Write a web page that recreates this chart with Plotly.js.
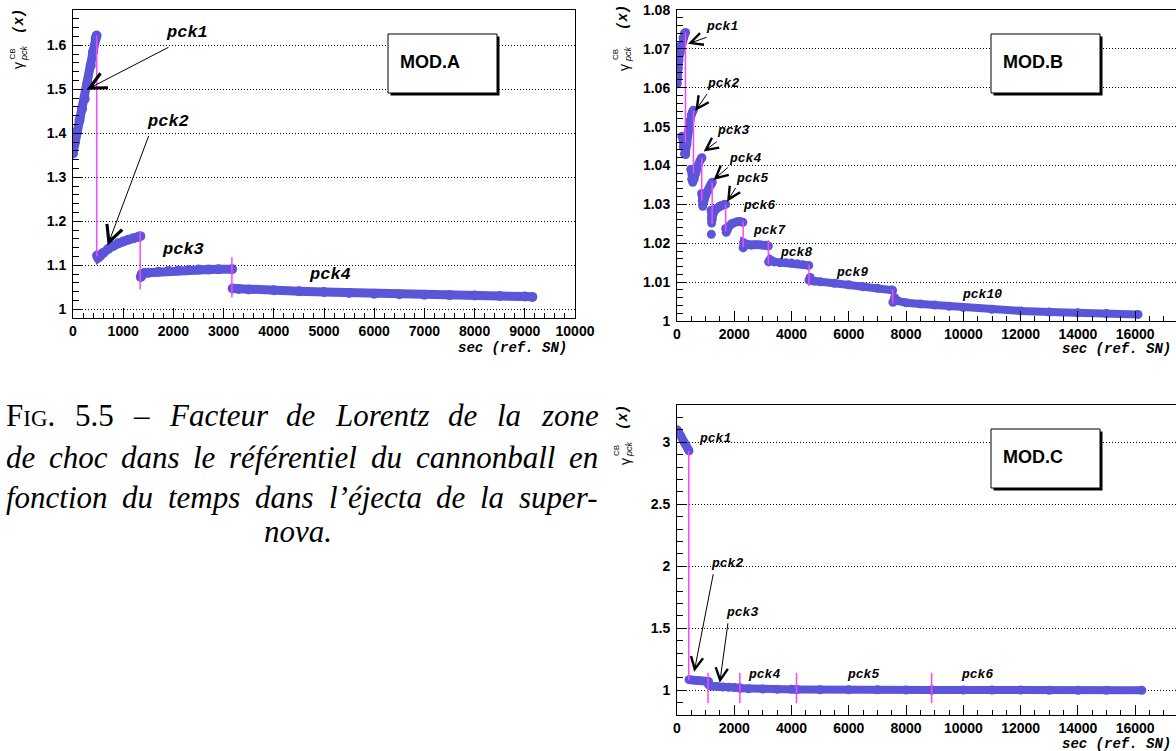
<!DOCTYPE html>
<html><head><meta charset="utf-8">
<script src="https://cdn.plot.ly/plotly-3.0.1.min.js"></script>
<style>html,body{margin:0;padding:0;overflow:hidden;background:#fff}</style>
</head><body><div id="chart" style="width:1184px;height:751px"></div>
<script>
// ---------- MOD.A ----------
const aPck1X=[0,40,80,130,180,233,290,353,400,453,470];
const aPck1Y=[1.354,1.38,1.403,1.43,1.455,1.478,1.515,1.554,1.585,1.615,1.622];
const aPck2X=[480,500,540,600,700,800,900,1000,1100,1200,1300,1340];
const aPck2Y=[1.122,1.117,1.121,1.128,1.137,1.144,1.15,1.154,1.158,1.161,1.164,1.166];
const aPck3X=[1350,1370,1420,1500,1700,1900,2100,2300,2500,2700,2900,3170];
const aPck3Y=[1.073,1.08,1.082,1.083,1.085,1.087,1.088,1.089,1.09,1.09,1.091,1.091];
const aPck4X=[3180,3300,3500,4000,4500,5000,5500,6000,6500,7000,7500,8000,8500,9000,9150];
const aPck4Y=[1.047,1.046,1.045,1.043,1.041,1.039,1.037,1.035,1.034,1.033,1.032,1.031,1.03,1.029,1.028];
const aSplitX=[472,1338,3165];
const aSplitTop=[1.622,1.178,1.118];
const aSplitBot=[1.12,1.045,1.027];
const aLabels=['pck1','pck2','pck3','pck4'];
const aLabelX=[2270,1890,2190,5120];
const aLabelY=[1.629,1.427,1.136,1.08];
const aTipX=[271,690], aTipY=[1.499,1.145], aTailX=[1932,1518], aTailY=[1.597,1.397];

// ---------- MOD.B ----------
const bPck1X=[0,10,20,40,70,110,160,210,260,300];
const bPck1Y=[1.0705,1.061,1.0625,1.065,1.067,1.069,1.071,1.0728,1.074,1.0742];
const bPck2X=[170,220,260,300,350,400,450,500,540,570];
const bPck2Y=[1.0475,1.0448,1.043,1.0428,1.0455,1.049,1.0515,1.053,1.0538,1.0542];
const bPck3X=[480,510,550,600,650,700,750,800,850,870];
const bPck3Y=[1.039,1.0365,1.0357,1.0365,1.038,1.0393,1.0403,1.0412,1.0418,1.042];
const bPck4X=[860,880,900,950,1000,1050,1100,1150,1200,1230];
const bPck4Y=[1.0328,1.031,1.0295,1.031,1.0322,1.0332,1.034,1.0347,1.0353,1.0357];
const bPck5X=[1190,1200,1210,1230,1260,1300,1350,1400,1450,1500,1550,1600,1650,1700];
const bPck5Y=[1.0285,1.0265,1.0252,1.0262,1.0275,1.0282,1.0287,1.029,1.0293,1.0295,1.0297,1.0298,1.03,1.03];
const bPck5OutX=[1200], bPck5OutY=[1.0223];
const bPck6X=[1700,1720,1760,1820,1900,2000,2100,2200,2300];
const bPck6Y=[1.0238,1.0228,1.0235,1.0244,1.025,1.0253,1.0255,1.0256,1.0254];
const bPck7X=[2310,2330,2400,2500,2600,2700,2800,2900,3000,3100,3190];
const bPck7Y=[1.0188,1.0201,1.0198,1.0196,1.0195,1.0196,1.0196,1.0196,1.0195,1.0195,1.0193];
const bPck8X=[3200,3250,3300,3400,3600,3800,4000,4200,4400,4600];
const bPck8Y=[1.0152,1.0158,1.0155,1.0152,1.015,1.015,1.0149,1.0147,1.0145,1.0143];
const bPck9X=[4610,4650,4700,4800,5000,5500,6000,6500,7000,7500,7530];
const bPck9Y=[1.0105,1.0112,1.0104,1.0102,1.0101,1.0097,1.0093,1.0088,1.0084,1.008,1.0079];
const bPck10X=[7540,7600,7700,8000,8500,9000,9500,10000,11000,12000,13000,14000,15000,16100];
const bPck10Y=[1.0048,1.006,1.0052,1.0047,1.0044,1.0041,1.0038,1.0035,1.003,1.0026,1.0023,1.0021,1.0019,1.0017];
const bSplitX=[295,575,865,1228,1700,2310,3190,4610,7530];
const bSplitTop=[1.0742,1.0542,1.042,1.0357,1.030,1.0256,1.0208,1.0145,1.0082];
const bSplitBot=[1.046,1.038,1.031,1.025,1.023,1.019,1.0145,1.009,1.0045];
const bLabels=['pck1','pck2','pck3','pck4','pck5','pck6','pck7','pck8','pck9','pck10'];
const bLabelX=[1560,1595,1952,2386,2616,2846,3228,4172,6124,10654];
const bLabelY=[1.0758,1.061,1.0489,1.0419,1.0367,1.0297,1.0233,1.0177,1.0125,1.0068];
const bTipX=[383,638,931,1276,1748], bTipY=[1.0713,1.054,1.0436,1.0363,1.0307];
const bTailX=[1085,1085,1442,1825,2080], bTailY=[1.0731,1.0588,1.0464,1.0398,1.0346];

// ---------- MOD.C ----------
const cPck1X=[0,50,100,150,200,250,300,350,400,420];
const cPck1Y=[3.10,3.085,3.065,3.045,3.02,3.0,2.98,2.96,2.94,2.93];
const cPck2X=[420,500,600,700,800,900,1000,1100];
const cPck2Y=[1.085,1.083,1.081,1.079,1.077,1.075,1.073,1.071];
const cPck3X=[1100,1150,1200,1400,1600,1800,2000,2200];
const cPck3Y=[1.045,1.038,1.034,1.03,1.026,1.023,1.021,1.019];
const cPck4X=[2200,2500,3000,3500,4000,4170];
const cPck4Y=[1.015,1.012,1.01,1.008,1.007,1.006];
const cPck5X=[4180,5000,6000,7000,8000,8890];
const cPck5Y=[1.005,1.004,1.003,1.003,1.002,1.002];
const cPck6X=[8900,10000,11000,12000,13000,14000,15000,16230];
const cPck6Y=[1.002,1.001,1.001,1.001,1.0,1.0,1.0,1.0];
const cSplitX=[410,1085,2195,4172,8893];
const cSplitTop=[2.93,1.14,1.14,1.14,1.14];
const cSplitBot=[1.08,0.895,0.895,0.895,0.895];
const cLabels=['pck1','pck2','pck3','pck4','pck5','pck6'];
const cLabelX=[1327,1748,2258,3024,6507,10462];
const cLabelY=[3.03,2.023,1.625,1.123,1.123,1.123];
const cTipX=[600,1493], cTipY=[1.149,1.06], cTailX=[1276,1786], cTailY=[1.948,1.552];

const modNames=['MOD.A','MOD.B','MOD.C'];
const captionLines=[
  ['FIG.','5.5','–','Facteur','de','Lorentz','de','la','zone'],
  ['de','choc','dans','le','référentiel','du','cannonball','en'],
  ['fonction','du','temps','dans','l’éjecta','de','la','super-'],
  ['nova.']
];
const xTitle='sec (ref. SN)';

// ---------- drawing ----------
const W=1184,H=751;
const PX=v=>v/W, PY=v=>1-v/H;
const BLUE='#5a55d9', MAG='#ff44ff';
const MONO='"Liberation Mono", "Courier New", monospace';
const SANS='"Liberation Sans", Arial, sans-serif';
const SERIF='"Liberation Serif", "Times New Roman", serif';

const traces=[];
function band(xs,ys,xa,ya,size){traces.push({type:'scatter',mode:'lines+markers',x:xs,y:ys,xaxis:xa,yaxis:ya,
  line:{color:BLUE,width:size-1},marker:{color:BLUE,size:size,line:{width:0}},hoverinfo:'skip'});}
function dots(xs,ys,xa,ya,size){traces.push({type:'scatter',mode:'markers',x:xs,y:ys,xaxis:xa,yaxis:ya,
  marker:{color:BLUE,size:size,line:{width:0}},hoverinfo:'skip'});}
const splitTraces=[];
function splits(xs,tops,bots,xa,ya){const X=[],Y=[];xs.forEach((v,i)=>{X.push(v,v,null);Y.push(tops[i],bots[i],null);});
  splitTraces.push({type:'scatter',mode:'lines',x:X,y:Y,xaxis:xa,yaxis:ya,line:{color:MAG,width:1.5},hoverinfo:'skip'});}

band(aPck1X,aPck1Y,'x','y',10);band(aPck2X,aPck2Y,'x','y',10);band(aPck3X,aPck3Y,'x','y',10);band(aPck4X,aPck4Y,'x','y',10);
[[bPck1X,bPck1Y],[bPck2X,bPck2Y],[bPck3X,bPck3Y],[bPck4X,bPck4Y],[bPck5X,bPck5Y],[bPck6X,bPck6Y],[bPck7X,bPck7Y],[bPck8X,bPck8Y],[bPck9X,bPck9Y],[bPck10X,bPck10Y]]
  .forEach(s=>band(s[0],s[1],'x2','y2',9));
dots(bPck5OutX,bPck5OutY,'x2','y2',9);
[[cPck1X,cPck1Y],[cPck2X,cPck2Y],[cPck3X,cPck3Y],[cPck4X,cPck4Y],[cPck5X,cPck5Y],[cPck6X,cPck6Y]]
  .forEach(s=>band(s[0],s[1],'x3','y3',9));
splits(aSplitX,aSplitTop,aSplitBot,'x','y');
splits(bSplitX,bSplitTop,bSplitBot,'x2','y2');
splits(cSplitX,cSplitTop,cSplitBot,'x3','y3');
traces.push(...splitTraces);

const ann=[];
function labels(txt,xs,ys,xa,ya,size){txt.forEach((t,i)=>ann.push({text:'<b><i>'+t+'</i></b>',x:xs[i],y:ys[i],xref:xa,yref:ya,
  xanchor:'center',yanchor:'middle',showarrow:false,font:{family:MONO,size:size,color:'#000'}}));}
function arrows(tx,ty,sx,sy,xa,ya,asize){tx.forEach((v,i)=>ann.push({text:'',x:v,y:ty[i],ax:sx[i],ay:sy[i],xref:xa,yref:ya,axref:xa,ayref:ya,
  showarrow:true,arrowhead:5,arrowsize:asize,arrowwidth:1,arrowcolor:'#000',standoff:0,startstandoff:0}));}
labels(aLabels,aLabelX,aLabelY,'x','y',17);
arrows(aTipX,aTipY,aTailX,aTailY,'x','y',3.2);
labels(bLabels,bLabelX,bLabelY,'x2','y2',13);
arrows(bTipX,bTipY,bTailX,bTailY,'x2','y2',2.4);
labels(cLabels,cLabelX,cLabelY,'x3','y3',13);
arrows(cTipX,cTipY,cTailX,cTailY,'x3','y3',2.4);

function pa(text,x,y,opts){ann.push(Object.assign({text:text,x:PX(x),y:PY(y),xref:'paper',yref:'paper',showarrow:false,borderpad:0,
  xanchor:'center',yanchor:'middle'},opts));}
// y titles
[[19,22,18,66,12.5,54,24,53],[623,18,624,67,616,55,628,54],[623,418,625,462,616,451,629,449]].forEach(p=>{
  pa('<b><i>(x)</i></b>',p[0],p[1],{textangle:-90,font:{family:MONO,size:14,color:'#000'}});
  pa('γ',p[2],p[3],{textangle:-90,font:{family:SANS,size:14,color:'#000'}});
  pa('CB',p[4],p[5],{textangle:-90,font:{family:SANS,size:8,color:'#000'}});
  pa('<i>pck</i>',p[6],p[7],{textangle:-90,font:{family:SANS,size:9,color:'#000'}});
});
// x titles
[[568,348],[1172,349],[1172,744]].forEach(p=>pa('<b><i>'+xTitle+'</i></b>',p[0],p[1],{xanchor:'right',font:{family:MONO,size:14,color:'#000'}}));
// MOD boxes
const shapes=[];
[[388,34,497,93],[991,34,1100,93],[991,429,1100,488]].forEach((b,i)=>{
  shapes.push({type:'rect',xref:'paper',yref:'paper',x0:PX(b[0]+2.5),x1:PX(b[2]+2.5),y0:PY(b[1]+2.5),y1:PY(b[3]+2.5),fillcolor:'#000',line:{width:0}});
  shapes.push({type:'rect',xref:'paper',yref:'paper',x0:PX(b[0]),x1:PX(b[2]),y0:PY(b[1]),y1:PY(b[3]),fillcolor:'#fff',line:{color:'#000',width:1}});
  pa('<b>'+modNames[i]+'</b>',b[0]+11,(b[1]+b[3])/2-2,{xanchor:'left',font:{family:SANS,size:18,color:'#000'}});
});
// caption (justified)
const FS=31, SC=23;
const ctx=document.createElement('canvas').getContext('2d');
function mw(t,size,it){ctx.font=(it?'italic ':'')+size+'px "Liberation Serif"';return ctx.measureText(t).width;}
function wordInfo(w,li,wi){
  if(li===0&&wi===0) return {html:'F<span style="font-size:'+SC+'px">IG</span>.',width:mw('F',FS,false)+mw('IG',SC,false)+mw('.',FS,false)};
  if(li===0&&wi<3) return {html:w,width:mw(w,FS,false)};
  return {html:'<i>'+w+'</i>',width:mw(w,FS,true)};
}
const lineY=[416,457,497,531];
captionLines.forEach((words,li)=>{
  const infos=words.map((w,wi)=>wordInfo(w,li,wi));
  if(words.length===1){pa(infos[0].html,298,lineY[li],{font:{family:SERIF,size:FS,color:'#000'}});return;}
  const L=5,R=597,total=infos.reduce((s,o)=>s+o.width,0),gap=(R-L-total)/(words.length-1);
  let x=L;
  infos.forEach(o=>{pa(o.html,x,lineY[li],{xanchor:'left',font:{family:SERIF,size:FS,color:'#000'}});x+=o.width+gap;});
});

const TF={family:SANS,size:14,color:'#000',weight:700};
function xax(dom,range,dt,mdt,anchor){return {domain:[PX(dom[0]),PX(dom[1])],range:range,anchor:anchor,tick0:0,dtick:dt,ticks:'inside',ticklen:10,tickwidth:1,tickcolor:'#000',
  minor:{tick0:0,dtick:mdt,ticks:'inside',ticklen:5,tickwidth:1,tickcolor:'#000',showgrid:false},
  showline:true,mirror:true,linecolor:'#000',linewidth:1,showgrid:false,zeroline:false,tickformat:'d',
  tickfont:TF,ticklabelstandoff:0,fixedrange:true};}
function yax(dom,range,t0,dt,mdt,anchor){return {domain:[PY(dom[1]),PY(dom[0])],range:range,anchor:anchor,tick0:t0,dtick:dt,ticks:'inside',ticklen:10,tickwidth:1,tickcolor:'#000',
  minor:{tick0:t0,dtick:mdt,ticks:'inside',ticklen:6,tickwidth:1,tickcolor:'#000',showgrid:false},
  showline:true,mirror:true,linecolor:'#000',linewidth:1,showgrid:true,gridcolor:'#000',gridwidth:1,griddash:'1px,2px',zeroline:false,exponentformat:'none',
  tickfont:TF,ticklabelstandoff:3,fixedrange:true};}

const layout={width:W,height:H,margin:{l:0,r:0,t:0,b:0},paper_bgcolor:'#fff',plot_bgcolor:'#fff',showlegend:false,hovermode:false,
  xaxis:xax([73,575],[0,10000],1000,200,'y'),
  yaxis:yax([10,318],[0.98,1.68],1,0.1,0.02,'x'),
  xaxis2:xax([677,1181],[0,17600],2000,500,'y2'),
  yaxis2:yax([10,321],[1,1.08],1,0.01,0.002,'x2'),
  xaxis3:xax([677,1181],[0,17600],2000,500,'y3'),
  yaxis3:yax([405,715],[0.8,3.3],1,0.5,0.1,'x3'),
  annotations:ann,shapes:shapes};
Plotly.newPlot('chart',traces,layout,{staticPlot:true,displayModeBar:false});
</script></body></html>
